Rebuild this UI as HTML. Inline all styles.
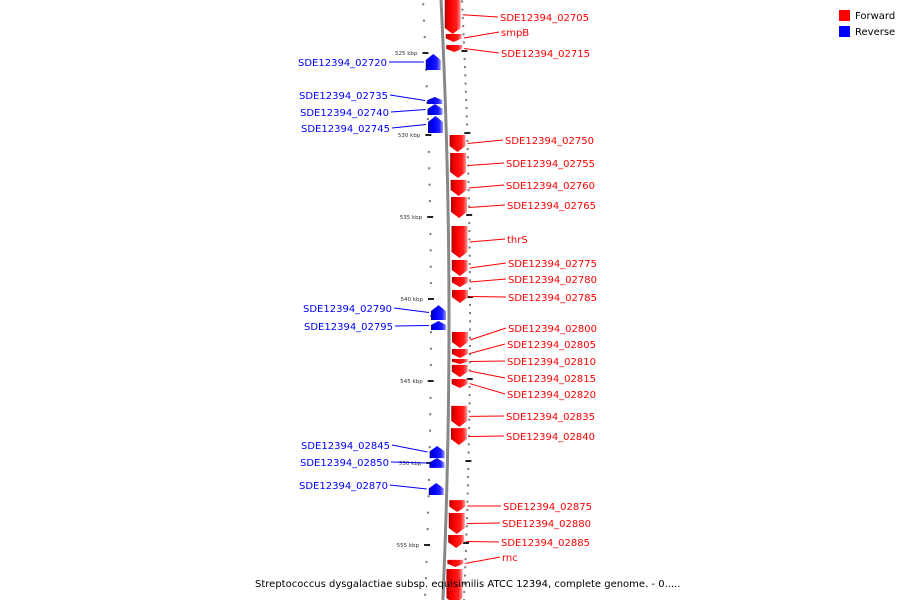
<!DOCTYPE html>
<html><head><meta charset="utf-8"><style>
body{margin:0;background:#fff;width:900px;height:600px;overflow:hidden}
svg{display:block;font-family:"DejaVu Sans","Liberation Sans",sans-serif}
</style></head><body>
<svg id="map" width="900" height="600" viewBox="0 0 900 600">
<defs>
<linearGradient id="gf" x1="0" x2="1"><stop offset="0" stop-color="#b00000"/><stop offset="0.35" stop-color="#ff0000"/><stop offset="0.75" stop-color="#ff2020"/><stop offset="1" stop-color="#ff9999"/></linearGradient>
<linearGradient id="gr" x1="0" x2="1"><stop offset="0" stop-color="#0000b0"/><stop offset="0.35" stop-color="#0000ff"/><stop offset="0.75" stop-color="#2020ff"/><stop offset="1" stop-color="#9999ff"/></linearGradient>
<linearGradient id="gl" x1="0" x2="1"><stop offset="0" stop-color="#ddd"/><stop offset="0.5" stop-color="#777"/><stop offset="1" stop-color="#ddd"/></linearGradient>
</defs>
<g id="ticks"></g>
<path id="backbone" fill="none" stroke="#888" stroke-width="3"/>
<g id="genes"></g>
<g id="labels"></g>
<text x="255" y="587" font-size="10" fill="#000">Streptococcus dysgalactiae subsp. equisimilis ATCC 12394, complete genome. - 0.....</text>
<g>
<rect x="839" y="10" width="11" height="11" fill="#ff0000"/>
<text x="855" y="19" font-size="10">Forward</text>
<rect x="839" y="26" width="11" height="11" fill="#0000ff"/>
<text x="855" y="35" font-size="10">Reverse</text>
</g>
</svg>
<script>
// data (kbp)
const fwdNames=["SDE12394_02705","smpB","SDE12394_02715","SDE12394_02750","SDE12394_02755","SDE12394_02760","SDE12394_02765","thrS","SDE12394_02775","SDE12394_02780","SDE12394_02785","SDE12394_02800","SDE12394_02805","SDE12394_02810","SDE12394_02815","SDE12394_02820","SDE12394_02835","SDE12394_02840","SDE12394_02875","SDE12394_02880","SDE12394_02885","rnc",""];
const fwdStart=[521.5,523.84,524.51,530.0,531.1,532.74,533.78,535.55,537.62,538.66,539.45,542.01,543.05,543.66,544.02,544.88,546.52,547.87,552.26,553.05,554.39,555.91,556.46];
const fwdEnd=[523.84,524.33,524.94,531.04,532.62,533.72,535.06,537.5,538.6,539.27,540.24,542.99,543.6,543.96,544.76,545.43,547.8,548.9,552.99,554.33,555.18,556.34,558.6];
const revNames=["SDE12394_02720","SDE12394_02735","SDE12394_02740","SDE12394_02745","SDE12394_02790","SDE12394_02795","SDE12394_02845","SDE12394_02850","SDE12394_02870"];
const revStart=[525.06,527.68,528.11,528.84,540.37,541.34,548.96,549.7,551.22];
const revEnd=[526.04,528.11,528.78,529.88,541.28,541.89,549.7,550.3,551.95];
const majorTicks=[525,530,535,540,545,550,555];
// label layout (pixels)
const fwdLabelY=[17,32,53,140,163,185,205,239,263,279,297,328,344,361,378,394,416,436,506,523,542,557,0];
const fwdLabelX=[500,501,501,505,506,506,507,507,508,508,508,508,507,507,507,507,506,506,503,502,501,502,0];
const revLabelY=[62,95,112,128,308,326,445,462,485];
const revLabelX=[387,388,389,390,392,393,390,389,388];

const NS="http://www.w3.org/2000/svg";
const yS=k=>53+(k-525)*16.4;
const lx=y=>441+8*(1-Math.pow((y-320)/320,2));
function mk(tag,attrs,parent){const e=document.createElementNS(NS,tag);for(const k in attrs)e.setAttribute(k,attrs[k]);parent.appendChild(e);return e;}
let d="";for(let y=-5;y<=605;y+=5)d+=(y<0?"M":"L")+lx(y).toFixed(2)+" "+y+" ";
document.getElementById('backbone').setAttribute('d',d);
const tg=document.getElementById('ticks');
for(let k=521;k<=559;k++){const y=yS(k);const c=lx(y);
 const isMaj=majorTicks.includes(k);
 if(isMaj){
  const a=mk('rect',{x:c-21,y:y-1,width:6,height:2,fill:'#222'},tg);
  
  const b=mk('rect',{x:c+18,y:y-3,width:6,height:2,fill:'#222'},tg);
  
  const t=mk('text',{x:c-26,y:y+2,'font-size':5.5,'text-anchor':'end',fill:'#333'},tg);t.textContent=k+" kbp";
  
 }else{
  const a=mk('rect',{x:c-19,y:y-0.5,width:2,height:2,fill:'#777'},tg);
  
 }
 for(const off of [0.5, isMaj?null:0.0]){ if(off===null)continue;
  const yy=yS(k+off-0.2);const cc=lx(yy);
  const b=mk('rect',{x:cc+20,y:yy,width:2,height:2,fill:'#777'},tg);
  
 }
}
const gg=document.getElementById('genes'),lg=document.getElementById('labels');
function gene(s,e,fwd,name,ly,lxx){
 const y1=yS(s),y2=yS(e),c=lx((y1+y2)/2);
 const h=y2-y1,tip=Math.min(6,h*0.45);
 let p;
 if(fwd){const x1=c+3,x2=c+19;p=`${x1},${y1} ${x2},${y1} ${x2},${y2-tip} ${(x1+x2)/2},${y2} ${x1},${y2-tip}`;}
 else{const x1=c-18,x2=c-3;p=`${x1},${y1+tip} ${(x1+x2)/2},${y1} ${x2},${y1+tip} ${x2},${y2} ${x1},${y2}`;}
 const g=mk('polygon',{points:p,fill:fwd?'url(#gf)':'url(#gr)'},gg);
 
 
 if(!name)return;
 const col=fwd?'#ff0000':'#0000ff';const my=(y1+y2)/2;
 const ln=mk('line',fwd?{x1:c+21,y1:my,x2:lxx-2,y2:ly}:{x1:c-20,y1:my,x2:lxx+2,y2:ly},lg);
 ln.setAttribute('stroke',col);ln.setAttribute('stroke-width','1');
 
 
 const t=mk('text',{x:lxx,y:ly+4,'font-size':10,fill:col,'text-anchor':fwd?'start':'end'},lg);
 t.textContent=name;
 
 
}
fwdNames.forEach((n,i)=>gene(fwdStart[i],fwdEnd[i],true,n,fwdLabelY[i],fwdLabelX[i]));
revNames.forEach((n,i)=>gene(revStart[i],revEnd[i],false,n,revLabelY[i],revLabelX[i]));
</script>
</body></html>
